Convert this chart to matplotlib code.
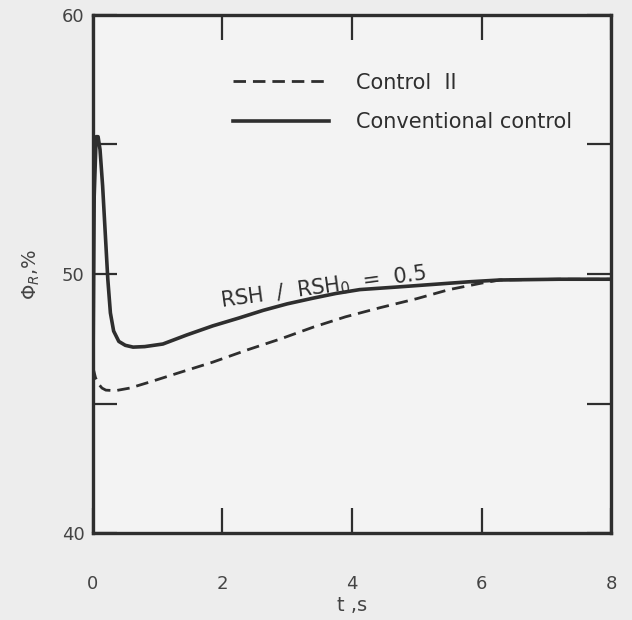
import matplotlib
matplotlib.use("Agg")
import matplotlib.pyplot as plt
import numpy as np

# Время, с
t_conv = [0.0, 0.02, 0.05, 0.08, 0.11, 0.15, 0.19, 0.23, 0.27, 0.32, 0.4, 0.5, 0.62, 0.8, 1.08, 1.45, 1.85,
          2.25, 2.63, 3.0, 3.4, 3.75, 4.12, 4.7, 5.25, 5.8, 6.28, 7.2, 8.0]
phi_conv = [45.8, 53.0, 55.3, 55.3, 54.8, 53.4, 51.6, 49.8, 48.5, 47.8, 47.4, 47.25, 47.18, 47.2, 47.3, 47.65, 48.0,
            48.3, 48.6, 48.85, 49.07, 49.25, 49.4, 49.5, 49.6, 49.7, 49.77, 49.8, 49.8]

t_ctrl2 = [0.0, 0.04, 0.09, 0.14, 0.2, 0.35, 0.57, 0.9, 1.34, 1.85, 2.38, 2.9, 3.4, 3.9, 4.43, 5.0, 5.5, 6.0, 6.28,
           7.2, 8.0]
phi_ctrl2 = [46.4, 46.0, 45.75, 45.6, 45.52, 45.5, 45.6, 45.85, 46.2, 46.6, 47.07, 47.5, 47.95, 48.35, 48.7, 49.05,
             49.4, 49.65, 49.77, 49.8, 49.8]

x_ticks = [0, 2, 4, 6, 8]
y_ticks = [40, 45, 50, 55, 60]
y_labels = ["40", "", "50", "", "60"]

ink = "#2e2e2e"

fig = plt.figure(figsize=(6.32, 6.2), dpi=100)
fig.patch.set_facecolor("#ededed")
ax = fig.add_axes([0.147, 0.140, 0.820, 0.836])
ax.set_facecolor("#f3f3f3")

ax.plot(t_ctrl2, phi_ctrl2, color=ink, lw=2.0, ls=(0, (4.5, 2.5)), label="Control  II")
ax.plot(t_conv, phi_conv, color=ink, lw=2.6, label="Conventional control")

ax.set_xlim(0, 8)
ax.set_ylim(40, 60)
ax.set_xticks(x_ticks)
ax.set_yticks(y_ticks)
ax.set_yticklabels(y_labels)

for s in ax.spines.values():
    s.set_linewidth(2.4)
    s.set_color(ink)

ax.tick_params(axis="x", direction="in", length=18, width=1.6, color=ink,
               top=True, pad=30, labelsize=13, labelcolor="#444444")
ax.tick_params(axis="y", direction="in", length=17, width=1.6, color=ink,
               right=True, pad=6, labelsize=13, labelcolor="#444444")

ax.set_xlabel("t ,s", fontsize=14, color="#444444", labelpad=2)
ax.set_ylabel(r"$\Phi_R$,%", fontsize=14, color="#444444", labelpad=14)

# подпись параметра прямо над кривой
ax.text(2.0, 48.5, r"RSH  /  RSH$_0$  =  0.5", rotation=7.7, fontsize=15,
        color=ink, ha="left", va="bottom", rotation_mode="anchor")

leg = ax.legend(loc="upper left", bbox_to_anchor=(0.235, 0.925), frameon=False,
                handlelength=4.6, handletextpad=1.3, labelspacing=0.95,
                fontsize=15)
for txt in leg.get_texts():
    txt.set_color(ink)

fig.savefig("out.png", dpi=100, facecolor=fig.get_facecolor())
